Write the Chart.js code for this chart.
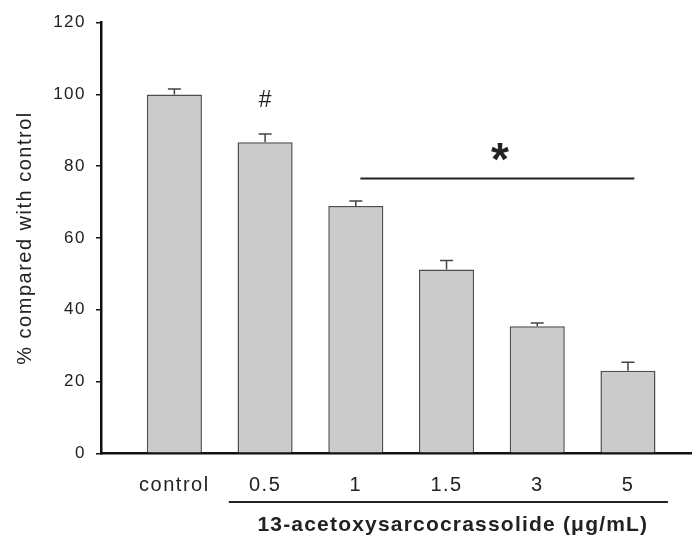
<!DOCTYPE html>
<html><head><meta charset="utf-8">
<script src="https://cdn.jsdelivr.net/npm/chart.js@4/dist/chart.umd.min.js"></script>
<style>html,body{margin:0;padding:0;background:#fff}</style>
</head><body><canvas id="c" width="692" height="536"></canvas>
<script>
const categories = ['control', '0.5', '1', '1.5', '3', '5'];
const values = [100, 86.7, 68.9, 51.2, 35.4, 23.0];
const errors = [1.5, 2.3, 1.4, 2.5, 0.9, 2.4];
const yTicks = [0, 20, 40, 60, 80, 100, 120];
const xTitle = '13-acetoxysarcocrassolide (\u03bcg/mL)';
const yTitle = '% compared with control';
const hashMark = { x: 1.0, y: 98.9, text: '#' };
const starMark = { x: 3.59, y: 84.1, text: '*' };
const sigLine = { from: 2.05, to: 5.07, y: 76.6 };
const titleLine = { from: 0.6, to: 5.44 };

const FONT = "'Liberation Sans', Arial, Helvetica, sans-serif";
const SPACING = '1.5px';

const spacingPlugin = {
  id: 'spacing',
  beforeUpdate(c) { c.ctx.letterSpacing = SPACING; },
  beforeLayout(c) { c.ctx.letterSpacing = SPACING; },
  beforeDraw(c) { c.ctx.letterSpacing = SPACING; }
};

function centeredGlyph(ctx, text, px, py) {
  const m = ctx.measureText(text);
  const base = py - (m.actualBoundingBoxDescent - m.actualBoundingBoxAscent) / 2;
  ctx.fillText(text, px, base);
}

const annot = {
  id: 'annot',
  afterDraw(chart) {
    const { ctx, scales: { x, y } } = chart;
    ctx.save();
    ctx.letterSpacing = '0px';
    // error bars
    ctx.strokeStyle = '#444';
    ctx.lineWidth = 1.5;
    values.forEach((v, i) => {
      const px = x.getPixelForValue(i);
      const p0 = y.getPixelForValue(v);
      const p1 = y.getPixelForValue(v + errors[i]);
      ctx.beginPath();
      ctx.moveTo(px, p0); ctx.lineTo(px, p1);
      ctx.moveTo(px - 6.5, p1); ctx.lineTo(px + 6.5, p1);
      ctx.stroke();
    });
    // significance line
    ctx.strokeStyle = '#222';
    ctx.lineWidth = 2;
    const sy = y.getPixelForValue(sigLine.y);
    ctx.beginPath();
    ctx.moveTo(x.getPixelForValue(sigLine.from), sy);
    ctx.lineTo(x.getPixelForValue(sigLine.to), sy);
    ctx.stroke();
    // marks
    ctx.fillStyle = '#222';
    ctx.textAlign = 'center';
    ctx.textBaseline = 'alphabetic';
    ctx.font = 'bold 46px ' + FONT;
    centeredGlyph(ctx, starMark.text, x.getPixelForValue(starMark.x), y.getPixelForValue(starMark.y));
    ctx.font = '23px ' + FONT;
    centeredGlyph(ctx, hashMark.text, x.getPixelForValue(hashMark.x), y.getPixelForValue(hashMark.y));
    // x title underline + title
    const lx0 = x.getPixelForValue(titleLine.from);
    const lx1 = x.getPixelForValue(titleLine.to);
    const ly = x.top + 48.7;
    ctx.beginPath();
    ctx.moveTo(lx0, ly); ctx.lineTo(lx1, ly);
    ctx.stroke();
    ctx.font = 'bold 21px ' + FONT;
    ctx.letterSpacing = '1.2px';
    ctx.textBaseline = 'middle';
    ctx.fillText(xTitle, (lx0 + lx1) / 2 + 4.5, x.top + 72);
    ctx.restore();
  }
};

new Chart(document.getElementById('c'), {
  type: 'bar',
  data: {
    datasets: [{
      data: values.map((v, i) => ({ x: i, y: v })),
      backgroundColor: '#cbcbcb',
      borderColor: '#4d4d4d',
      borderWidth: 1.5,
      borderSkipped: 'start',
      categoryPercentage: 1,
      barPercentage: 0.607
    }]
  },
  options: {
    responsive: false,
    devicePixelRatio: 1,
    animation: false,
    layout: { padding: { top: 22.7, right: 0, bottom: 0, left: 0 } },
    plugins: { legend: { display: false }, tooltip: { enabled: false } },
    scales: {
      x: {
        type: 'linear',
        offset: false,
        min: -0.809,
        max: 5.706,
        z: 1,
        afterBuildTicks(s) { s.ticks = categories.map((_, i) => ({ value: i })); },
        afterFit(s) { s.height = 82.7; },
        ticks: {
          callback: (v) => categories[v],
          font: { family: FONT, size: 20 },
          color: '#222',
          padding: 20,
          maxRotation: 0,
          autoSkip: false
        },
        grid: { display: false, drawTicks: false, offset: false },
        border: { display: true, color: '#111', width: 2.5 }
      },
      y: {
        min: 0,
        max: 120,
        z: 1,
        afterBuildTicks(s) { s.ticks = yTicks.map(v => ({ value: v })); },
        afterFit(s) { s.width = 101; },
        ticks: {
          font: { family: FONT, size: 17 },
          color: '#222',
          padding: 10
        },
        grid: { display: true, drawOnChartArea: false, drawTicks: true, tickLength: 5, color: '#111', lineWidth: 1.5 },
        border: { display: true, color: '#111', width: 2.5 },
        title: {
          display: true,
          text: yTitle,
          font: { family: FONT, size: 20 },
          color: '#222',
          padding: { top: 13, bottom: 0 }
        }
      }
    }
  },
  plugins: [spacingPlugin, annot]
});
</script></body></html>
